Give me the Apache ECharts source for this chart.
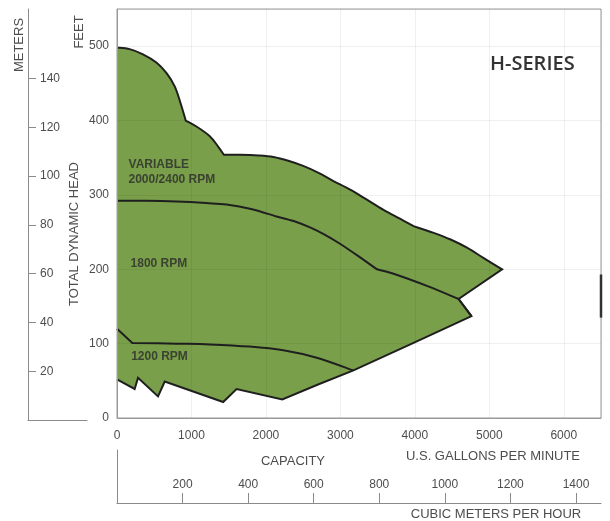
<!DOCTYPE html>
<html>
<head>
<meta charset="utf-8">
<script src="https://cdn.jsdelivr.net/npm/echarts@6/dist/echarts.min.js"></script>
<style>html,body{margin:0;padding:0;background:#fff}#c{width:610px;height:521px}</style>
</head>
<body>
<div id="c"></div>
<script>
// ---- tick values ----
const gpmTicks = [0, 1000, 2000, 3000, 4000, 5000, 6000];
const feetTicks = [0, 100, 200, 300, 400, 500];
const meterTicks = [20, 40, 60, 80, 100, 120, 140];
const cubicTicks = [200, 400, 600, 800, 1000, 1200, 1400];

// ---- curve data (US GPM, feet), split at corners ----
const domeTop = [[0, 498], [170, 496], [349, 489], [529, 478], [663, 464], [775, 446], [852, 424], [923, 400]];
const shoulder = [[923, 400], [1067, 392], [1246, 379], [1358, 365], [1435, 354]];
const variableMain = [[1435, 354], [1650, 354], [1900, 353], [2100, 351], [2300, 346], [2500, 339], [2700, 330],
  [2900, 319], [3131, 307], [3350, 294], [3579, 280], [3800, 268], [3983, 258]];
const variableTail = [[3983, 258], [4252, 249], [4480, 240], [4700, 229], [4925, 215], [5172, 200]];
const variableReturn = [[5172, 200], [4588, 160]];
const rpm1800Main = [[0, 292], [400, 292], [798, 291], [1200, 289], [1471, 287], [1800, 281], [2144, 271],
  [2400, 264], [2600, 256], [2800, 246], [3000, 234], [3250, 217], [3490, 200]];
const rpm1800Tail = [[3490, 200], [3714, 194], [4180, 177], [4588, 160]];
const rpm1800Tip = [[4588, 160], [4760, 137]];
const lowerEdge = [[4760, 137], [3983, 101], [3175, 64], [2700, 45], [2220, 25]];
const jaggedBottom = [[2220, 25], [1606, 39], [1426, 21.5], [641, 49], [551, 29], [282, 54], [237, 39], [0, 52]];
const rpm1200Start = [[0, 120], [206, 101]];
const rpm1200Main = [[206, 101], [800, 100], [1246, 99], [1784, 96], [2233, 91], [2682, 81], [3175, 64]];
const edgeMark = [[6500, 193], [6500, 135]];

const regionLabels = [
  { name: 'VARIABLE\n2000/2400 RPM', value: [148, 331] },
  { name: '1800 RPM', value: [175, 208] },
  { name: '1200 RPM', value: [183, 83] }
];

// segments: [points, smooth?]
const outlineSegs = [
  [domeTop, true], [shoulder, true], [variableMain, true], [variableTail, true],
  [variableReturn, false], [rpm1800Tip, false], [lowerEdge, false], [jaggedBottom, false]
];
const curve1800Segs = [[rpm1800Main, true], [rpm1800Tail, true], [rpm1800Tip, false]];
const curve1200Segs = [[rpm1200Start, false], [rpm1200Main, true]];

const GREEN = '#7a9f4b';
const LINE = '#1f1f1f';
const TXT = '#4d4d4d';
const FONT = '"Liberation Sans", Arial, sans-serif';

function segPath(segs, coord, close) {
  let d = '';
  segs.forEach(function (seg, si) {
    const p = seg[0].map(coord);
    if (si === 0) d += 'M' + p[0][0] + ' ' + p[0][1];
    for (let i = 0; i < p.length - 1; i++) {
      if (seg[1]) {
        const p0 = p[i - 1] || p[i], p1 = p[i], p2 = p[i + 1], p3 = p[i + 2] || p[i + 1];
        const c1x = p1[0] + (p2[0] - p0[0]) / 6, c1y = p1[1] + (p2[1] - p0[1]) / 6;
        const c2x = p2[0] - (p3[0] - p1[0]) / 6, c2y = p2[1] - (p3[1] - p1[1]) / 6;
        d += 'C' + c1x + ' ' + c1y + ' ' + c2x + ' ' + c2y + ' ' + p2[0] + ' ' + p2[1];
      } else {
        d += 'L' + p[i + 1][0] + ' ' + p[i + 1][1];
      }
    }
  });
  if (close) d += 'Z';
  return d;
}

const chart = echarts.init(document.getElementById('c'), null, { renderer: 'canvas' });
const numFmt = v => String(v);

chart.setOption({
  animation: false,
  grid: [
    { left: 117, top: 9, width: 484, height: 409, show: true, borderColor: '#9a9a9a', borderWidth: 1 },
    { left: 28, top: 9, width: 59, height: 411 },
    { left: 117, top: 450, width: 484, height: 53 }
  ],
  xAxis: [
    {
      gridIndex: 0, type: 'value', min: 0, max: 6500, interval: 1000, z: 5,
      axisLine: { show: true, lineStyle: { color: '#9a9a9a', width: 1 } },
      axisTick: { show: false },
      axisLabel: { color: TXT, fontSize: 12, fontFamily: FONT, margin: 12, customValues: gpmTicks, formatter: numFmt },
      splitLine: { show: true, lineStyle: { color: 'rgba(0,0,0,0.06)', width: 1 } }
    },
    {
      gridIndex: 1, type: 'value', min: 0, max: 1,
      axisLine: { show: true, lineStyle: { color: '#8a8a8a', width: 1 } },
      axisTick: { show: false }, axisLabel: { show: false }, splitLine: { show: false }
    },
    {
      gridIndex: 2, type: 'value', min: 0, max: 1476.3,
      axisLine: { show: true, lineStyle: { color: '#8a8a8a', width: 1 } },
      axisTick: { show: true, inside: true, length: 10, lineStyle: { color: '#8a8a8a' }, customValues: cubicTicks },
      axisLabel: { show: true, inside: true, margin: 12, color: TXT, fontSize: 12, fontFamily: FONT, customValues: cubicTicks, formatter: numFmt },
      splitLine: { show: false }
    }
  ],
  yAxis: [
    {
      gridIndex: 0, type: 'value', min: 0, max: 550, interval: 100, z: 5,
      axisLine: { show: true, lineStyle: { color: '#9a9a9a', width: 1 } },
      axisTick: { show: false },
      axisLabel: { color: TXT, fontSize: 12, fontFamily: FONT, margin: 8, customValues: feetTicks, formatter: numFmt },
      splitLine: { show: true, lineStyle: { color: 'rgba(0,0,0,0.06)', width: 1 } }
    },
    {
      gridIndex: 1, type: 'value', min: 0, max: 168.5,
      axisLine: { show: true, lineStyle: { color: '#8a8a8a', width: 1 } },
      axisTick: { show: true, inside: true, length: 8, lineStyle: { color: '#8a8a8a' }, customValues: meterTicks },
      axisLabel: { show: true, inside: true, margin: 12, color: TXT, fontSize: 12, fontFamily: FONT, customValues: meterTicks, formatter: numFmt },
      splitLine: { show: false }
    },
    {
      gridIndex: 2, type: 'value', min: 0, max: 1,
      axisLine: { show: true, lineStyle: { color: '#8a8a8a', width: 1 } },
      axisTick: { show: false }, axisLabel: { show: false }, splitLine: { show: false }
    }
  ],
  series: [
    {
      type: 'custom', xAxisIndex: 0, yAxisIndex: 0, silent: true, z: 2, clip: false,
      data: [[0, 0]],
      renderItem: function (params, api) {
        const coord = p => api.coord(p);
        return {
          type: 'group',
          children: [
            { type: 'path', shape: { pathData: segPath(outlineSegs, coord, true) }, style: { fill: GREEN, stroke: null } },
            { type: 'path', shape: { pathData: segPath(outlineSegs, coord, false) }, style: { fill: null, stroke: LINE, lineWidth: 2, lineJoin: 'miter' } },
            { type: 'path', shape: { pathData: segPath(curve1800Segs, coord, false) }, style: { fill: null, stroke: LINE, lineWidth: 2 } },
            { type: 'path', shape: { pathData: segPath(curve1200Segs, coord, false) }, style: { fill: null, stroke: LINE, lineWidth: 2 } },
            { type: 'path', shape: { pathData: segPath([[edgeMark, false]], coord, false) }, style: { fill: null, stroke: '#333', lineWidth: 2.5 } }
          ]
        };
      }
    },
    {
      type: 'scatter', xAxisIndex: 0, yAxisIndex: 0, silent: true, z: 6,
      symbolSize: 1, itemStyle: { color: 'rgba(0,0,0,0)' },
      data: regionLabels,
      label: {
        show: true, position: 'right', distance: 0, formatter: p => p.name,
        color: '#2b2b2b', fontSize: 12, fontWeight: 'bold', fontFamily: FONT, lineHeight: 15, align: 'left'
      }
    }
  ],
  graphic: [
    { type: 'text', left: 490, top: 54, style: { text: 'H-SERIES', fill: '#333', font: '600 20px "Open Sans", sans-serif' } },
    { type: 'text', x: 79, y: 32, rotation: Math.PI / 2, style: { text: 'FEET', fill: TXT, font: '13px ' + FONT, align: 'center', verticalAlign: 'middle' } },
    { type: 'text', x: 19, y: 45, rotation: Math.PI / 2, style: { text: 'METERS', fill: TXT, font: '13px ' + FONT, align: 'center', verticalAlign: 'middle' } },
    { type: 'text', x: 74, y: 234, rotation: Math.PI / 2, style: { text: 'TOTAL DYNAMIC HEAD', fill: TXT, font: '13px ' + FONT, align: 'center', verticalAlign: 'middle' } },
    { type: 'text', x: 293, y: 461, style: { text: 'CAPACITY', fill: TXT, font: '13px ' + FONT, align: 'center', verticalAlign: 'middle' } },
    { type: 'text', x: 493, y: 456, style: { text: 'U.S. GALLONS PER MINUTE', fill: TXT, font: '13px ' + FONT, align: 'center', verticalAlign: 'middle' } },
    { type: 'text', x: 496, y: 514, style: { text: 'CUBIC METERS PER HOUR', fill: TXT, font: '13px ' + FONT, align: 'center', verticalAlign: 'middle' } }
  ]
});
</script>
</body>
</html>
